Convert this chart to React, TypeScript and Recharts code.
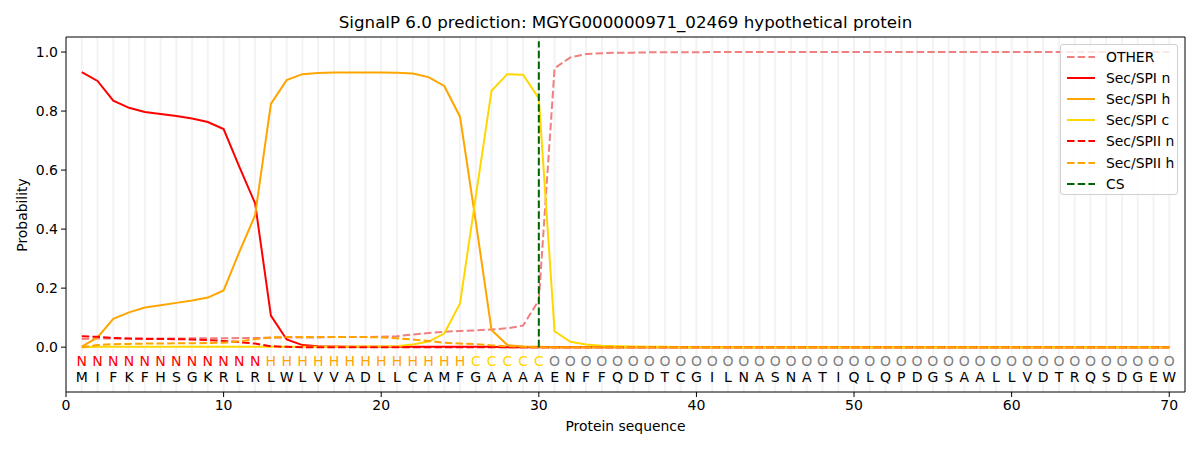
import { ComposedChart, Line, Scatter, XAxis, YAxis, ReferenceLine } from 'recharts'

const TITLE = 'SignalP 6.0 prediction: MGYG000000971_02469 hypothetical protein'
const RESIDUES = 'MIFKFHSGKRLRLWLVVADLLCAMFGAAAAENFFQDDTCGILNASNATIQLQPDGSAALLVDTRQSDGEW'.split('')
const REGIONS = 'NNNNNNNNNNNNHHHHHHHHHHHHHCCCCCOOOOOOOOOOOOOOOOOOOOOOOOOOOOOOOOOOOOOOOO'.split('')

const OTHER = [
  0.028, 0.029, 0.029, 0.029, 0.029, 0.029, 0.029, 0.030, 0.030, 0.030,
  0.031, 0.031, 0.032, 0.033, 0.033, 0.033, 0.034, 0.034, 0.034, 0.035,
  0.037, 0.043, 0.048, 0.052, 0.055, 0.057, 0.060, 0.064, 0.073, 0.159,
  0.945, 0.982, 0.993, 0.996, 0.998, 0.998, 0.999, 0.999, 0.999, 0.999,
  1.000, 1.000, 1.000, 1.000, 1.000, 1.000, 1.000, 1.000, 1.000, 1.000,
  1.000, 1.000, 1.000, 1.000, 1.000, 1.000, 1.000, 1.000, 1.000, 1.000,
  1.000, 1.000, 1.000, 1.000, 1.000, 1.000, 1.000, 1.000, 1.000, 1.000,
]
const SPI_N = [
  0.932, 0.902, 0.835, 0.811, 0.797, 0.790, 0.783, 0.775, 0.763, 0.739,
  0.611, 0.487, 0.107, 0.026, 0.007, 0.003, 0.002, 0.001, 0.001, 0.001,
  0.001, 0.001, 0.001, 0.001, 0.001, 0.001, 0.001, 0, 0, 0,
  0, 0, 0, 0, 0, 0, 0, 0, 0, 0,
  0, 0, 0, 0, 0, 0, 0, 0, 0, 0,
  0, 0, 0, 0, 0, 0, 0, 0, 0, 0,
  0, 0, 0, 0, 0, 0, 0, 0, 0, 0,
]
const SPI_H = [
  0.002, 0.033, 0.096, 0.118, 0.134, 0.142, 0.150, 0.158, 0.168, 0.192,
  0.323, 0.447, 0.824, 0.905, 0.925, 0.929, 0.931, 0.931, 0.931, 0.931,
  0.930, 0.927, 0.915, 0.885, 0.781, 0.425, 0.058, 0.007, 0.002, 0.001,
  0, 0, 0, 0, 0, 0, 0, 0, 0, 0,
  0, 0, 0, 0, 0, 0, 0, 0, 0, 0,
  0, 0, 0, 0, 0, 0, 0, 0, 0, 0,
  0, 0, 0, 0, 0, 0, 0, 0, 0, 0,
]
const SPI_C = [
  0, 0.001, 0.001, 0.001, 0.001, 0.001, 0.001, 0.001, 0.001, 0.001,
  0.001, 0.001, 0.001, 0.001, 0.001, 0.001, 0.001, 0.001, 0.002, 0.002,
  0.003, 0.009, 0.019, 0.046, 0.148, 0.510, 0.869, 0.925, 0.923, 0.843,
  0.054, 0.018, 0.009, 0.005, 0.003, 0.002, 0.001, 0.001, 0, 0,
  0, 0, 0, 0, 0, 0, 0, 0, 0, 0,
  0, 0, 0, 0, 0, 0, 0, 0, 0, 0,
  0, 0, 0, 0, 0, 0, 0, 0, 0, 0,
]
const SPII_N = [
  0.037, 0.035, 0.031, 0.029, 0.028, 0.028, 0.027, 0.026, 0.024, 0.021,
  0.017, 0.012, 0.003, 0.001, 0, 0, 0, 0, 0, 0,
  0, 0, 0, 0, 0, 0, 0, 0, 0, 0,
  0, 0, 0, 0, 0, 0, 0, 0, 0, 0,
  0, 0, 0, 0, 0, 0, 0, 0, 0, 0,
  0, 0, 0, 0, 0, 0, 0, 0, 0, 0,
  0, 0, 0, 0, 0, 0, 0, 0, 0, 0,
]
const SPII_H = [
  0, 0.007, 0.010, 0.011, 0.012, 0.012, 0.013, 0.013, 0.014, 0.015,
  0.020, 0.027, 0.033, 0.034, 0.034, 0.034, 0.034, 0.034, 0.034, 0.033,
  0.030, 0.026, 0.021, 0.015, 0.012, 0.010, 0.006, 0.003, 0.001, 0,
  0, 0, 0, 0, 0, 0, 0, 0, 0, 0,
  0, 0, 0, 0, 0, 0, 0, 0, 0, 0,
  0, 0, 0, 0, 0, 0, 0, 0, 0, 0,
  0, 0, 0, 0, 0, 0, 0, 0, 0, 0,
]
const CS_POS = 30
const X_DOMAIN = [0, 71]
const Y_DOMAIN = [-0.152, 1.051]
const X_TICKS = [0, 10, 20, 30, 40, 50, 60, 70]
const Y_TICKS = [0, 0.2, 0.4, 0.6, 0.8, 1.0]

// letter rows sit below zero, in data units
const REGION_Y = -0.047
const RESIDUE_Y = -0.102

const REGION_COLOR: Record<string, string> = { N: '#ff0000', H: '#ffa500', C: '#ffd700', O: '#808080' }
const FONT = 'DejaVu Sans'
const DASH = '7.5 3.2'

const rows = RESIDUES.map((aa, i) => ({
  pos: i + 1, aa, region: REGIONS[i],
  other: OTHER[i], spiN: SPI_N[i], spiH: SPI_H[i], spiC: SPI_C[i], spiiN: SPII_N[i], spiiH: SPII_H[i],
  regionY: REGION_Y, residueY: RESIDUE_Y,
}))

const LEGEND = [
  { name: 'OTHER', color: '#f08080', dash: true },
  { name: 'Sec/SPI n', color: '#ff0000', dash: false },
  { name: 'Sec/SPI h', color: '#ffa500', dash: false },
  { name: 'Sec/SPI c', color: '#ffd700', dash: false },
  { name: 'Sec/SPII n', color: '#ff0000', dash: true },
  { name: 'Sec/SPII h', color: '#ffa500', dash: true },
  { name: 'CS', color: '#006400', dash: true },
]

const RegionText = (p: any) => (
  <text x={p.cx} y={p.cy} textAnchor="middle" dominantBaseline="central" fontSize={14} fontFamily={FONT}
    fill={REGION_COLOR[p.payload.region]}>{p.payload.region}</text>
)
const ResidueText = (p: any) => (
  <text x={p.cx} y={p.cy} textAnchor="middle" dominantBaseline="central" fontSize={14} fontFamily={FONT}
    fill="#000">{p.payload.aa}</text>
)

export default function App() {
  const tick = { fontSize: 14, fontFamily: FONT, fill: '#000' }
  return (
    <div style={{ position: 'absolute', left: 0, top: 0, width: 1200, height: 450, background: '#fff', fontFamily: FONT }}>
      <div style={{ position: 'absolute', left: 66, width: 1119, top: 12, textAlign: 'center', fontSize: 16.7 }}>{TITLE}</div>
      <div style={{ position: 'absolute', left: 66, width: 1119, top: 418, textAlign: 'center', fontSize: 13.9 }}>Protein sequence</div>
      <div style={{
        position: 'absolute', left: 22, top: 215, fontSize: 13.9, whiteSpace: 'nowrap',
        transform: 'translate(-50%, -50%) rotate(-90deg)',
      }}>Probability</div>

      <ComposedChart width={1200} height={450} data={rows} margin={{ top: 37, right: 15, bottom: 28, left: 0 }}>
        {rows.map(r => (
          <ReferenceLine key={r.pos} x={r.pos} stroke="#f3f3f3" strokeWidth={2} />
        ))}
        <XAxis dataKey="pos" type="number" domain={X_DOMAIN} ticks={X_TICKS} allowDataOverflow
          height={30} tick={tick} tickSize={5} tickMargin={3} stroke="#000" />
        <YAxis type="number" domain={Y_DOMAIN} ticks={Y_TICKS} allowDataOverflow
          width={66} tick={tick} tickSize={5} tickMargin={3} stroke="#000"
          tickFormatter={(v: number) => v.toFixed(1)} />
        {/* top and right spines */}
        <ReferenceLine y={Y_DOMAIN[1]} stroke="#000" strokeWidth={1} />
        <ReferenceLine x={X_DOMAIN[1]} stroke="#000" strokeWidth={1} />

        <Line dataKey="other" stroke="#f08080" strokeWidth={2} strokeDasharray={DASH} dot={false} isAnimationActive={false} />
        <Line dataKey="spiN" stroke="#ff0000" strokeWidth={2} dot={false} isAnimationActive={false} />
        <Line dataKey="spiH" stroke="#ffa500" strokeWidth={2} dot={false} isAnimationActive={false} />
        <Line dataKey="spiC" stroke="#ffd700" strokeWidth={2} dot={false} isAnimationActive={false} />
        <Line dataKey="spiiN" stroke="#ff0000" strokeWidth={2} strokeDasharray={DASH} dot={false} isAnimationActive={false} />
        <Line dataKey="spiiH" stroke="#ffa500" strokeWidth={2} strokeDasharray={DASH} dot={false} isAnimationActive={false} />

        <ReferenceLine segment={[{ x: CS_POS, y: 0 }, { x: CS_POS, y: 1.037 }]} stroke="#006400"
          strokeWidth={2} strokeDasharray={DASH} />

        <Scatter dataKey="regionY" shape={RegionText} isAnimationActive={false} />
        <Scatter dataKey="residueY" shape={ResidueText} isAnimationActive={false} />
      </ComposedChart>

      <div style={{
        position: 'absolute', left: 1060, top: 44, width: 116, height: 149,
        border: '1px solid #d0d0d0', borderRadius: 3, background: 'rgba(255,255,255,0.8)',
      }}>
        {LEGEND.map((e, i) => (
          <div key={e.name} style={{ position: 'absolute', left: 5, top: 2 + i * 21.1, height: 20, display: 'flex', alignItems: 'center' }}>
            <svg width={30} height={4} style={{ marginRight: 10 }}>
              <line x1={1} y1={2} x2={29} y2={2} stroke={e.color} strokeWidth={2} strokeDasharray={e.dash ? DASH : undefined} />
            </svg>
            <span style={{ fontSize: 13.9, whiteSpace: 'nowrap' }}>{e.name}</span>
          </div>
        ))}
      </div>
    </div>
  )
}
